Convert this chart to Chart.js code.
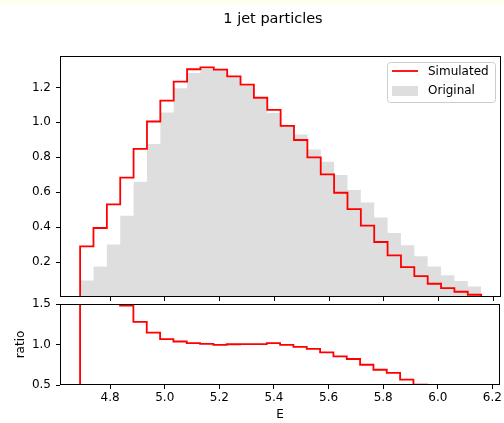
<!DOCTYPE html>
<html>
<head>
<meta charset="utf-8">
<script src="https://cdn.jsdelivr.net/npm/chart.js@4/dist/chart.umd.min.js"></script>
<style>
html,body{margin:0;padding:0;background:#fff;}
#wrap{position:relative;width:504px;height:423px;overflow:hidden;}
#band{position:absolute;left:0;top:0;width:504px;height:5px;background:#fffff0;}
canvas{position:absolute;left:0;top:0;}
</style>
</head>
<body>
<div id="wrap">
<div id="band"></div>
<canvas id="c1" width="546" height="423"></canvas>
<canvas id="c2" width="504" height="423"></canvas>
</div>
<script>
// ---- data ----
const chartTitle = '1 jet particles';
const xAxisLabel = 'E';
const ratioAxisLabel = 'ratio';
const seriesNames = ['Simulated', 'Original'];

const binEdges = [4.690, 4.7388, 4.7877, 4.8365, 4.8853, 4.9342, 4.9830, 5.0318, 5.0807, 5.1295,
                  5.1783, 5.2272, 5.2760, 5.3248, 5.3737, 5.4225, 5.4713, 5.5202, 5.5690, 5.6178,
                  5.6667, 5.7155, 5.7643, 5.8132, 5.8620, 5.9108, 5.9597, 6.0085, 6.0573, 6.1062, 6.155];

const simulated = [0.290, 0.395, 0.530, 0.683, 0.848, 1.005, 1.125, 1.233, 1.304, 1.315,
                   1.302, 1.263, 1.216, 1.141, 1.072, 0.980, 0.899, 0.800, 0.702, 0.597,
                   0.503, 0.409, 0.315, 0.238, 0.171, 0.120, 0.076, 0.051, 0.030, 0.013];

const original = [0.095, 0.175, 0.300, 0.465, 0.660, 0.876, 1.057, 1.196, 1.282, 1.305,
                  1.307, 1.259, 1.210, 1.135, 1.054, 0.984, 0.930, 0.844, 0.775, 0.698,
                  0.612, 0.541, 0.455, 0.367, 0.297, 0.234, 0.175, 0.124, 0.091, 0.060];

const ratio = [3.05, 2.26, 1.77, 1.48, 1.28, 1.146, 1.067, 1.037, 1.017, 1.008,
               0.996, 1.003, 1.005, 1.005, 1.017, 0.996, 0.971, 0.946, 0.904, 0.854,
               0.821, 0.750, 0.688, 0.650, 0.567, 0.504, 0.43, 0.41, 0.33, 0.22];

const xTicks = [4.8, 5.0, 5.2, 5.4, 5.6, 5.8, 6.0, 6.2];
const yTicksMain = [0.2, 0.4, 0.6, 0.8, 1.0, 1.2];
const yTicksRatio = [0.5, 1.0, 1.5];

// ---- helpers ----
function stepPoints(values) {
  const pts = [{x: binEdges[0], y: 0}];
  values.forEach((v, i) => {
    pts.push({x: binEdges[i], y: v});
    pts.push({x: binEdges[i + 1], y: v});
  });
  pts.push({x: binEdges[binEdges.length - 1], y: 0});
  return pts;
}
const FONT = 'DejaVu Sans';
Chart.defaults.font.family = FONT;
Chart.defaults.font.size = 12;
Chart.defaults.color = '#000';

const framePlugin = {
  id: 'frame',
  afterDatasetsDraw(chart) {
    const a = chart.chartArea, ctx = chart.ctx;
    ctx.save();
    ctx.strokeStyle = '#000';
    ctx.lineWidth = 1;
    ctx.strokeRect(Math.round(a.left) + 0.5, Math.round(a.top) + 0.5,
                   Math.round(a.right - a.left) - 1, Math.round(a.bottom - a.top) - 1);
    ctx.restore();
  }
};

const legendPlugin = {
  id: 'mplLegend',
  afterDraw(chart) {
    const ctx = chart.ctx, a = chart.chartArea;
    const ds = chart.data.datasets;
    const w = 108, h = 40;
    const x0 = a.right - 6 - w, y0 = a.top + 6;
    ctx.save();
    ctx.beginPath();
    if (ctx.roundRect) ctx.roundRect(x0 + 0.5, y0 + 0.5, w, h, 3); else ctx.rect(x0 + 0.5, y0 + 0.5, w, h);
    ctx.fillStyle = 'rgba(255,255,255,0.8)';
    ctx.fill();
    ctx.strokeStyle = '#cccccc';
    ctx.lineWidth = 1;
    ctx.stroke();
    ctx.strokeStyle = ds[0].borderColor;
    ctx.lineWidth = 1.8;
    ctx.beginPath();
    ctx.moveTo(x0 + 5, y0 + 9);
    ctx.lineTo(x0 + 31, y0 + 9);
    ctx.stroke();
    ctx.fillStyle = ds[1].backgroundColor;
    ctx.fillRect(x0 + 5, y0 + 24, 26, 10);
    ctx.fillStyle = '#000';
    ctx.font = '12px "' + FONT + '"';
    ctx.textBaseline = 'middle';
    ctx.textAlign = 'left';
    ctx.fillText(ds[0].label, x0 + 41, y0 + 9.5);
    ctx.fillText(ds[1].label, x0 + 41, y0 + 28.5);
    ctx.restore();
  }
};

const xMin = 4.6165, xMax = 6.2275;
function xScale(showLabels, extra) {
  return Object.assign({
    type: 'linear', min: xMin, max: xMax,
    afterBuildTicks: s => { s.ticks = xTicks.map(v => ({value: v})); },
    ticks: {display: showLabels, padding: 2, font: {family: FONT, size: 12}, color: '#000',
            callback: v => v.toFixed(1), maxRotation: 0, autoSkip: false},
    grid: {drawOnChartArea: false, drawTicks: true, tickLength: 4, color: '#000', tickColor: '#000', lineWidth: 1},
    border: {display: false}
  }, extra);
}
function yScale(min, max, ticksArr, extra) {
  return Object.assign({
    type: 'linear', min: min, max: max,
    afterBuildTicks: s => { s.ticks = ticksArr.map(v => ({value: v})); },
    ticks: {padding: 5, font: {family: FONT, size: 12}, color: '#000', callback: v => Number(v).toFixed(1), autoSkip: false},
    grid: {drawOnChartArea: false, drawTicks: true, tickLength: 4, color: '#000', tickColor: '#000', lineWidth: 1},
    border: {display: false}
  }, extra);
}

// ---- main histogram panel ----
new Chart(document.getElementById('c1'), {
  type: 'line',
  data: {
    datasets: [
      {label: seriesNames[0], data: stepPoints(simulated), borderColor: '#ff0000', borderWidth: 1.8,
       pointRadius: 0, fill: false, tension: 0, borderJoinStyle: 'miter', borderCapStyle: 'butt'},
      {label: seriesNames[1], data: stepPoints(original), borderColor: 'rgba(0,0,0,0)', borderWidth: 0,
       backgroundColor: '#dedede', pointRadius: 0, fill: 'origin', tension: 0}
    ]
  },
  options: {
    responsive: false, animation: false, devicePixelRatio: 1,
    layout: {padding: {left: 0, right: 0, top: 0, bottom: 116}},
    plugins: {
      legend: {display: false}, tooltip: {enabled: false},
      title: {display: true, text: chartTitle, color: '#000',
              font: {family: FONT, size: 14.5, weight: 'normal'}, padding: {top: 11, bottom: 27.6}}
    },
    scales: {
      x: xScale(false, {afterFit: s => { s.height = 10; }}),
      y: yScale(0, 1.38, yTicksMain, {afterFit: s => { s.width = 60; }}),
      ySpacer: {type: 'linear', position: 'right', display: true, min: 0, max: 1,
                ticks: {display: false}, grid: {display: false}, border: {display: false},
                afterFit: s => { s.width = 45; }}
    }
  },
  plugins: [framePlugin, legendPlugin]
});

// ---- ratio panel ----
new Chart(document.getElementById('c2'), {
  type: 'line',
  data: {
    datasets: [
      {label: 'ratio', data: stepPoints(ratio), borderColor: '#ff0000', borderWidth: 1.8,
       pointRadius: 0, fill: false, tension: 0, borderJoinStyle: 'miter', borderCapStyle: 'butt'}
    ]
  },
  options: {
    responsive: false, animation: false, devicePixelRatio: 1,
    layout: {padding: {left: 0, right: 3, top: 304, bottom: 0}},
    plugins: {legend: {display: false}, tooltip: {enabled: false}, title: {display: false}},
    scales: {
      x: xScale(true, {
        title: {display: true, text: xAxisLabel, color: '#000', font: {family: FONT, size: 12}, padding: {top: 0, bottom: 1}},
        afterFit: s => { s.height = 38; }
      }),
      y: yScale(0.5, 1.5, yTicksRatio, {
        title: {display: true, text: ratioAxisLabel, color: '#000', font: {family: FONT, size: 12}, padding: {top: 14, bottom: 0}},
        afterFit: s => { s.width = 60; }
      })
    }
  },
  plugins: [framePlugin]
});
</script>
</body>
</html>
